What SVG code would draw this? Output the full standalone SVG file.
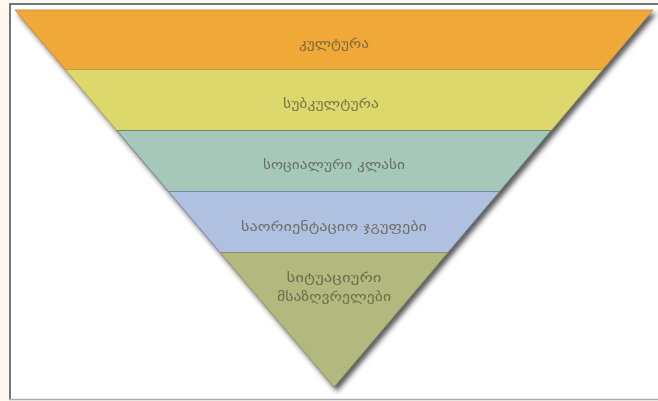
<svg xmlns="http://www.w3.org/2000/svg" width="658" height="401" viewBox="0 0 658 401">
<defs>
<filter id="sh" x="-10%" y="-10%" width="130%" height="130%">
<feDropShadow dx="3" dy="4" stdDeviation="2.5" flood-color="#222" flood-opacity="0.75"/>
</filter>
<style>
.t{font-family:"DejaVu Sans","Noto Sans",sans-serif;font-size:13px;fill:#55553f;fill-opacity:0.75;text-anchor:middle;dominant-baseline:central}
</style>
</defs>
<rect x="0" y="0" width="658" height="401" fill="#fef9ef"/>
<rect x="10" y="4" width="650" height="395" fill="#ffffff"/>
<line x1="10" y1="4" x2="10" y2="399" stroke="#6f7680" stroke-width="2"/>
<line x1="9" y1="4" x2="658" y2="4" stroke="#6f7680" stroke-width="2"/>
<line x1="9" y1="399.5" x2="658" y2="399.5" stroke="#a8acb0" stroke-width="1.5"/>
<g filter="url(#sh)">
<g id="band1"><polygon points="15,10 653,10 602.7,69.5 65.3,69.5" fill="#f0a838" stroke="#c08a30" stroke-width="0.8"/><text class="t" x="334" y="43" textLength="70" lengthAdjust="spacingAndGlyphs">კულტურა</text></g>
<g id="band2"><polygon points="65.3,69.5 602.7,69.5 551.1,130.5 116.9,130.5" fill="#dcd86c" stroke="#b0a050" stroke-width="0.8"/><text class="t" x="331" y="103" textLength="96" lengthAdjust="spacingAndGlyphs">სუბკულტურა</text></g>
<g id="band3"><polygon points="116.9,130.5 551.1,130.5 499.5,191.5 168.5,191.5" fill="#a6c8ba" stroke="#6a7a70" stroke-width="0.8"/><text class="t" x="334" y="164" textLength="142" lengthAdjust="spacingAndGlyphs">სოციალური კლასი</text></g>
<g id="band4"><polygon points="168.5,191.5 499.5,191.5 447.8,252.5 220.2,252.5" fill="#b0c0e0" stroke="#7080a0" stroke-width="0.8"/><text class="t" x="334" y="226" textLength="186" lengthAdjust="spacingAndGlyphs">საორიენტაციო ჯგუფები</text></g>
<g id="band5"><polygon points="220.2,252.5 447.8,252.5 334,387" fill="#b2b87e" stroke="#8a8e60" stroke-width="0.8"/><text class="t" x="334" y="277" textLength="95" lengthAdjust="spacingAndGlyphs">სიტუაციური</text><text class="t" x="334" y="296" textLength="114" lengthAdjust="spacingAndGlyphs">მსაზღვრელები</text></g>
</g>
</svg>
